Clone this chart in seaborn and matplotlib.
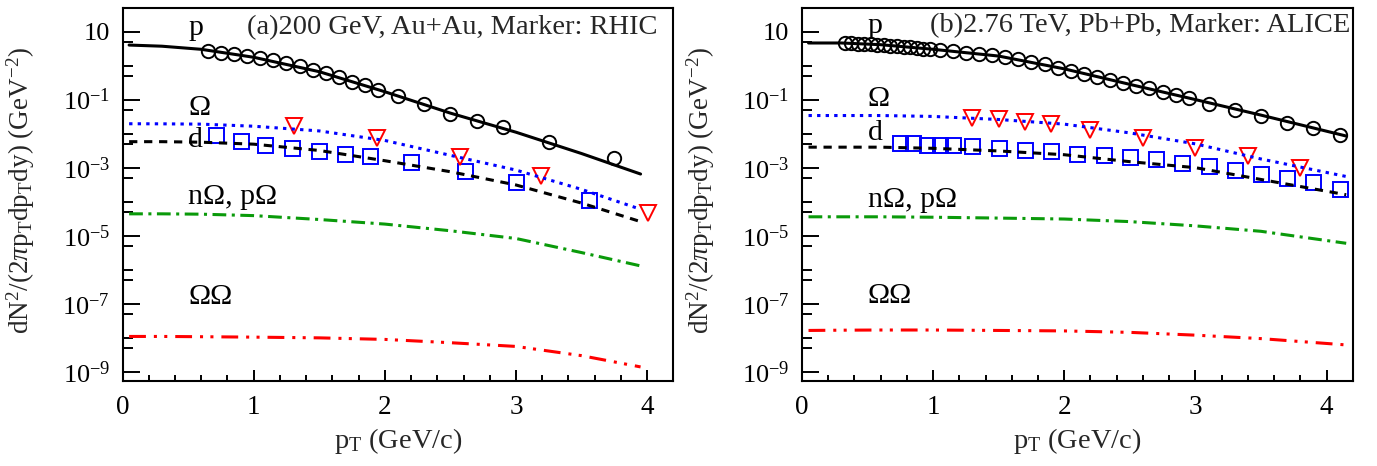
import matplotlib
matplotlib.use("Agg")
import matplotlib.pyplot as plt
import seaborn as sns
from matplotlib.ticker import FixedLocator, MultipleLocator, NullFormatter

# ---------------- panel (a): 200 GeV Au+Au, RHIC markers ----------------
a_p_pt = [0.65, 0.75, 0.85, 0.95, 1.05, 1.15, 1.25, 1.35, 1.45, 1.55, 1.65,
          1.75, 1.85, 1.95, 2.1, 2.3, 2.5, 2.7, 2.9, 3.25, 3.75]
a_p_val = [2.6, 2.33, 2.18, 1.94, 1.66, 1.48, 1.18, 0.98, 0.745, 0.594, 0.453,
           0.335, 0.267, 0.19, 0.126, 0.073, 0.0387, 0.0233, 0.0155, 0.0056, 0.0019]
a_omega_pt = [1.31, 1.94, 2.57, 3.19, 4.01]
a_omega_val = [0.017, 0.0073, 0.0021, 5.5e-4, 4.6e-5]
a_d_pt = [0.71, 0.90, 1.09, 1.29, 1.50, 1.70, 1.89, 2.20, 2.61, 3.00, 3.56]
a_d_val = [0.0091, 0.0062, 0.0047, 0.0039, 0.0031, 0.0026, 0.0022, 0.0015,
           8.1e-4, 3.9e-4, 1.1e-4]

a_curve_pt = [0.05, 0.3, 0.6, 1.0, 1.5, 2.0, 2.5, 3.0, 3.5, 3.95]
a_p_curve = [4.0, 3.7, 3.0, 1.75, 0.66, 0.17, 0.04, 0.011, 0.0026, 6.5e-4]
a_omega_curve = [0.0195, 0.0194, 0.019, 0.0165, 0.012, 0.0063, 0.0023, 8.5e-4, 2.3e-4, 6e-5]
a_d_curve = [0.0058, 0.0058, 0.0056, 0.0049, 0.0032, 0.0016, 7.6e-4, 3.1e-4, 9.1e-5, 2.6e-5]
a_nomega_curve = [4.4e-5, 4.4e-5, 4.3e-5, 3.9e-5, 3.0e-5, 2.2e-5, 1.4e-5, 8.3e-6, 3.2e-6, 1.3e-6]
a_oo_curve = [1.1e-8, 1.1e-8, 1.08e-8, 1.05e-8, 1.0e-8, 9.0e-9, 7.2e-9, 5.6e-9, 3.0e-9, 1.4e-9]

# ---------------- panel (b): 2.76 TeV Pb+Pb, ALICE markers ----------------
b_p_pt = [0.325, 0.375, 0.425, 0.475, 0.525, 0.575, 0.625, 0.675, 0.725, 0.775,
          0.825, 0.875, 0.925, 0.975, 1.05, 1.15, 1.25, 1.35, 1.45, 1.55, 1.65,
          1.75, 1.85, 1.95, 2.05, 2.15, 2.25, 2.35, 2.45, 2.55, 2.65, 2.75, 2.85,
          2.95, 3.1, 3.3, 3.5, 3.7, 3.9, 4.1]
b_p_val = [4.6, 4.5, 4.4, 4.3, 4.2, 4.0, 3.9, 3.8, 3.7, 3.55, 3.4, 3.3, 3.15, 3.0,
           2.85, 2.6, 2.4, 2.2, 2.0, 1.8, 1.55, 1.3, 1.08, 0.86, 0.68, 0.57, 0.46,
           0.38, 0.30, 0.25, 0.215, 0.172, 0.137, 0.11, 0.075, 0.05, 0.034, 0.020,
           0.0145, 0.0092]
b_omega_pt = [1.3, 1.5, 1.7, 1.9, 2.2, 2.6, 3.0, 3.4, 3.8]
b_omega_val = [0.029, 0.026, 0.022, 0.019, 0.0129, 0.0072, 0.0037, 0.0022, 0.001]
b_d_pt = [0.75, 0.85, 0.95, 1.05, 1.15, 1.3, 1.5, 1.7, 1.9, 2.1, 2.3, 2.5, 2.7,
          2.9, 3.1, 3.3, 3.5, 3.7, 3.9, 4.1]
b_d_val = [0.0052, 0.0052, 0.0047, 0.0047, 0.0045, 0.0042, 0.0037, 0.0033, 0.0030,
           0.0025, 0.0023, 0.0020, 0.0018, 0.0014, 0.00115, 8.6e-4, 6.4e-4, 4.9e-4,
           3.7e-4, 2.3e-4]

b_curve_pt = [0.05, 0.3, 0.6, 1.0, 1.5, 2.0, 2.5, 3.0, 3.5, 4.15]
b_p_curve = [4.6, 4.6, 4.1, 3.0, 1.9, 0.8, 0.28, 0.1, 0.035, 0.0085]
b_omega_curve = [0.034, 0.034, 0.034, 0.032, 0.026, 0.019, 0.0105, 0.005, 0.0018, 5.5e-4]
b_d_curve = [0.0040, 0.0040, 0.0040, 0.0037, 0.0031, 0.0024, 0.0015, 0.001, 4.5e-4, 1.6e-4]
b_nomega_curve = [3.6e-5, 3.6e-5, 3.6e-5, 3.5e-5, 3.3e-5, 3.1e-5, 2.6e-5, 1.95e-5, 1.35e-5, 6e-6]
b_oo_curve = [1.65e-8, 1.68e-8, 1.7e-8, 1.7e-8, 1.65e-8, 1.6e-8, 1.45e-8, 1.2e-8, 9.5e-9, 6.2e-9]

ytick_vals = [1e1, 1e-1, 1e-3, 1e-5, 1e-7, 1e-9]
ytick_labels = ["10", r"$\mathregular{10^{-1}}$", r"$\mathregular{10^{-3}}$",
                r"$\mathregular{10^{-5}}$", r"$\mathregular{10^{-7}}$",
                r"$\mathregular{10^{-9}}$"]

sns.set_theme(style="white")
plt.rcParams["font.family"] = ["Liberation Serif", "DejaVu Serif"]
plt.rcParams["mathtext.fontset"] = "custom"
plt.rcParams["mathtext.rm"] = "Liberation Serif"
plt.rcParams["mathtext.it"] = "Liberation Serif:italic"

GREEN = "#0a9a0a"
LW = 2.2

fig = plt.figure(figsize=(13.77, 4.66), dpi=100)
ax_a = fig.add_axes([0.0890, 0.1824, 0.4000, 0.8004])
ax_b = fig.add_axes([0.5824, 0.1824, 0.4000, 0.8004])


def draw_panel(ax, p_pt, p_val, om_pt, om_val, d_pt, d_val,
               cpt, p_c, om_c, d_c, no_c, oo_c):
    # data markers first, model curves on top
    sns.lineplot(x=p_pt, y=p_val, ax=ax, marker="o", linestyle="none",
                 markersize=9.6, markerfacecolor="none", markeredgecolor="black",
                 markeredgewidth=1.4, color="black", legend=False, zorder=3)
    sns.lineplot(x=d_pt, y=d_val, ax=ax, marker="s", linestyle="none",
                 markersize=10.8, markerfacecolor="none", markeredgecolor="blue",
                 markeredgewidth=1.4, color="blue", legend=False, zorder=3)
    sns.lineplot(x=om_pt, y=om_val, ax=ax, marker="v", linestyle="none",
                 markersize=11.5, markerfacecolor="none", markeredgecolor="red",
                 markeredgewidth=1.4, color="red", legend=False, zorder=3)

    sns.lineplot(x=cpt, y=p_c, ax=ax, color="black", linewidth=LW,
                 linestyle="-", legend=False, zorder=4)
    sns.lineplot(x=cpt, y=om_c, ax=ax, color="blue", linewidth=LW,
                 linestyle=(0, (1.1, 1.7)), legend=False, zorder=4)
    sns.lineplot(x=cpt, y=d_c, ax=ax, color="black", linewidth=LW,
                 linestyle=(0, (2.7, 2.2)), legend=False, zorder=4)
    sns.lineplot(x=cpt, y=no_c, ax=ax, color=GREEN, linewidth=LW,
                 linestyle=(0, (4.5, 1.8, 1.0, 1.8)), legend=False, zorder=4)
    sns.lineplot(x=cpt, y=oo_c, ax=ax, color="red", linewidth=LW,
                 linestyle=(0, (5.5, 2.6, 1.0, 2.4, 1.0, 2.6)), legend=False, zorder=4)

    ax.set_yscale("log")
    ax.set_xlim(0, 4.2)
    ax.set_ylim(5.4e-10, 49)

    ax.xaxis.set_major_locator(MultipleLocator(1))
    ax.xaxis.set_minor_locator(MultipleLocator(0.2))
    ax.yaxis.set_major_locator(FixedLocator(ytick_vals))
    ax.yaxis.set_major_formatter(plt.FixedFormatter(ytick_labels))
    minor = [10.0 ** k for k in range(-8, 2, 2)] + \
            [5 * 10.0 ** k for k in range(-10, 1)]
    ax.yaxis.set_minor_locator(FixedLocator(minor))
    ax.yaxis.set_minor_formatter(NullFormatter())

    ax.tick_params(axis="both", which="both", direction="in", colors="black",
                   top=False, right=False, left=True, bottom=True, width=1.4)
    ax.tick_params(axis="y", which="major", length=12, labelsize=19, pad=9)
    ax.tick_params(axis="y", which="minor", length=7)
    ax.tick_params(axis="x", which="major", length=8, labelsize=19.5, pad=10)
    ax.tick_params(axis="x", which="minor", length=4.5)

    for s in ax.spines.values():
        s.set_linewidth(1.5)
        s.set_color("black")

    ax.set_xlabel(r"p$_{\rm T}$ (GeV/c)", fontsize=20.5, labelpad=4.5)
    ax.set_ylabel(r"dN$^{2}$/(2$\pi$p$_{\rm T}$dp$_{\rm T}$dy) (GeV$^{-2}$)",
                  fontsize=19.5)
    ax.yaxis.set_label_coords(-0.155, 0.51)
    ax.grid(False)


draw_panel(ax_a, a_p_pt, a_p_val, a_omega_pt, a_omega_val, a_d_pt, a_d_val,
           a_curve_pt, a_p_curve, a_omega_curve, a_d_curve, a_nomega_curve, a_oo_curve)
draw_panel(ax_b, b_p_pt, b_p_val, b_omega_pt, b_omega_val, b_d_pt, b_d_val,
           b_curve_pt, b_p_curve, b_omega_curve, b_d_curve, b_nomega_curve, b_oo_curve)

lab = dict(fontsize=21.5, ha="left", va="baseline", color="black")
ax_a.text(0.5, 8.0, "p", **lab)
ax_a.text(0.5, 0.035, "Ω", **lab)
ax_a.text(0.5, 0.004, "d", **lab)
ax_a.text(0.5, 8.5e-5, "nΩ, pΩ", **lab)
ax_a.text(0.5, 1.0e-7, "ΩΩ", **lab)
ax_b.text(0.5, 8.9, "p", **lab)
ax_b.text(0.5, 0.065, "Ω", **lab)
ax_b.text(0.5, 0.0065, "d", **lab)
ax_b.text(0.5, 7e-5, "nΩ, pΩ", **lab)
ax_b.text(0.5, 1.05e-7, "ΩΩ", **lab)

ax_a.text(0.972, 0.930, "(a)200 GeV, Au+Au, Marker: RHIC", transform=ax_a.transAxes,
          fontsize=20.5, ha="right", va="baseline")
ax_b.text(0.9946, 0.935, "(b)2.76 TeV, Pb+Pb, Marker: ALICE", transform=ax_b.transAxes,
          fontsize=20.5, ha="right", va="baseline")

fig.savefig("out.png", dpi=100, facecolor="white")
